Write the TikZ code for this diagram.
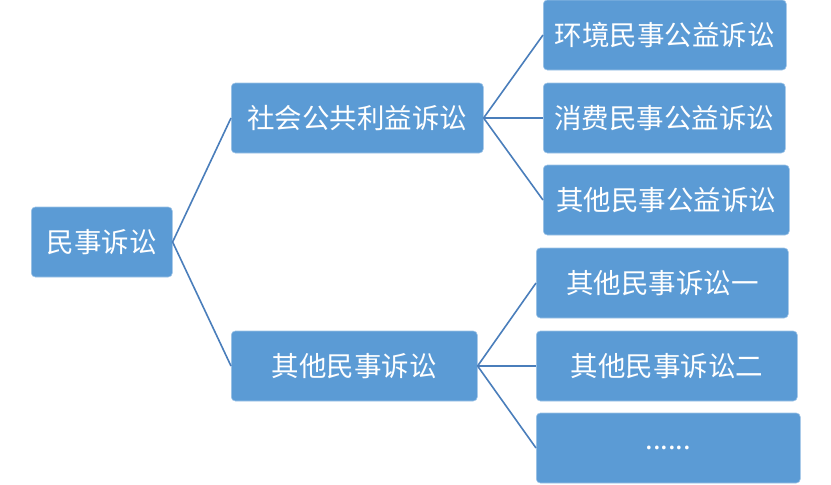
\documentclass[tikz,border=0pt]{standalone}
\usepackage{fontspec}
\setmainfont{Noto Sans CJK SC}
\usepackage{xcolor}
\usetikzlibrary{positioning}
\definecolor{boxblue}{HTML}{5B9BD5}
\definecolor{boxline}{HTML}{9DC3E6}
\definecolor{linkblue}{HTML}{4A7EBB}

\begin{document}
\begin{tikzpicture}[
  x=1pt,y=-1pt,
  font=\fontsize{27.5}{32}\selectfont,
  box/.style={draw=boxline,fill=boxblue,rounded corners=4pt,text=white,
              minimum height=70pt,inner sep=2pt,anchor=west,line width=0.6pt},
  link/.style={linkblue,line width=1.6pt}
]
\useasboundingbox (0,0) rectangle (831,485);
% root and second level
\node[box,minimum width=141pt] (civil) at (31,242) {民事诉讼};
\node[box,minimum width=252pt] (pub) at (231,118) {社会公共利益诉讼};
\node[box,minimum width=246pt] (oth) at (231,366) {其他民事诉讼};

% public interest cases
\node[box,minimum width=243pt] (env) at (543,35) {环境民事公益诉讼};
\node[box,minimum width=242pt] (con) at (543,118) {消费民事公益诉讼};
\node[box,minimum width=246pt] (opub) at (543,200) {其他民事公益诉讼};

% other civil cases
\node[box,minimum width=252pt] (o1) at (536,283) {其他民事诉讼一};
\node[box,minimum width=261pt] (o2) at (536,366) {其他民事诉讼二};
\node[box,minimum width=264pt] (o3) at (536,448) {......};

\draw[link] (pub.west) -- (civil.east) -- (oth.west);
\foreach \n in {env,con,opub} \draw[link] (pub.east) -- (\n.west);
\foreach \n in {o1,o2,o3} \draw[link] (oth.east) -- (\n.west);
\end{tikzpicture}
\end{document}
